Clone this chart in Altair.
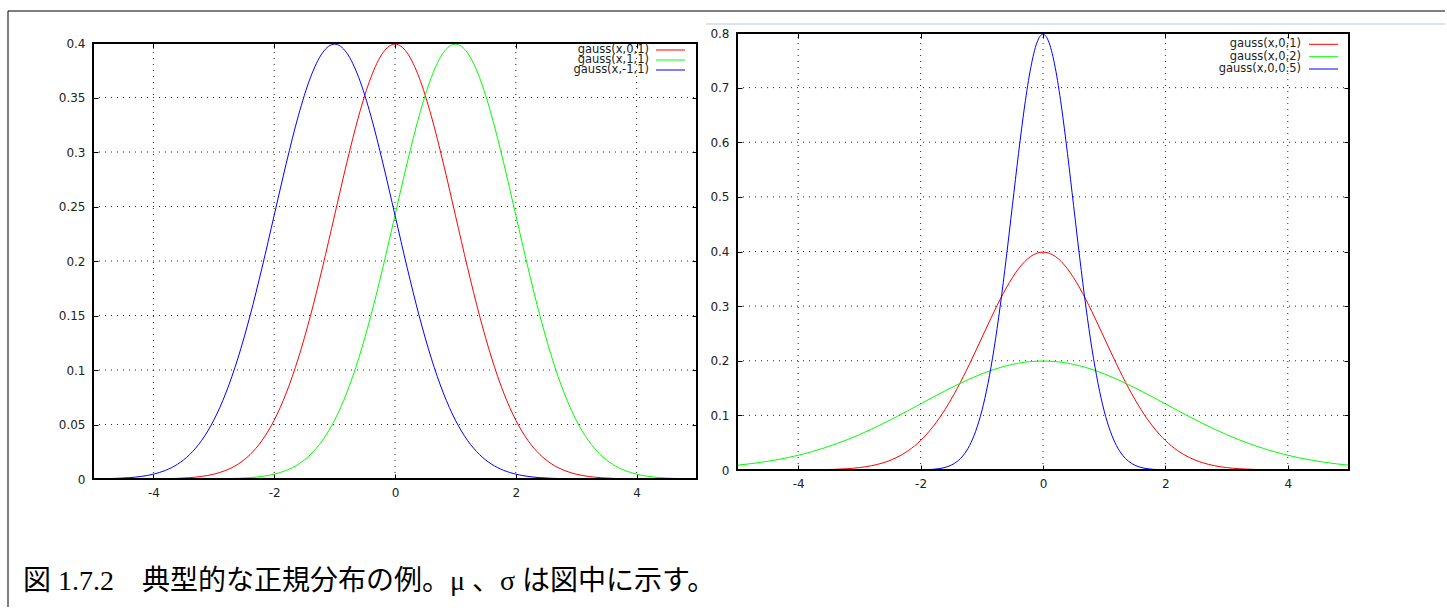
import altair as alt
import pandas as pd

# ---------------- data ----------------
X_GRID = [round(-5 + 0.2 * i, 1) for i in range(51)]   # sample positions -5..5
X_FINE = [round(-2 + 0.1 * i, 1) for i in range(41)]   # sample positions -2..2

L_RED = [0.00000, 0.00000, 0.00001, 0.00002, 0.00006, 0.00013, 0.00029, 0.00061, 0.00123, 0.00238,
         0.00443, 0.00792, 0.01358, 0.02239, 0.03547, 0.05399, 0.07895, 0.11092, 0.14973, 0.19419,
         0.24197, 0.28969, 0.33322, 0.36827, 0.39104, 0.39894, 0.39104, 0.36827, 0.33322, 0.28969,
         0.24197, 0.19419, 0.14973, 0.11092, 0.07895, 0.05399, 0.03547, 0.02239, 0.01358, 0.00792,
         0.00443, 0.00238, 0.00123, 0.00061, 0.00029, 0.00013, 0.00006, 0.00002, 0.00001, 0.00000,
         0.00000]
L_GREEN = [0.00000, 0.00000, 0.00000, 0.00000, 0.00000, 0.00000, 0.00000, 0.00001, 0.00002, 0.00006,
           0.00013, 0.00029, 0.00061, 0.00123, 0.00238, 0.00443, 0.00792, 0.01358, 0.02239, 0.03547,
           0.05399, 0.07895, 0.11092, 0.14973, 0.19419, 0.24197, 0.28969, 0.33322, 0.36827, 0.39104,
           0.39894, 0.39104, 0.36827, 0.33322, 0.28969, 0.24197, 0.19419, 0.14973, 0.11092, 0.07895,
           0.05399, 0.03547, 0.02239, 0.01358, 0.00792, 0.00443, 0.00238, 0.00123, 0.00061, 0.00029,
           0.00013]
L_BLUE = [0.00013, 0.00029, 0.00061, 0.00123, 0.00238, 0.00443, 0.00792, 0.01358, 0.02239, 0.03547,
          0.05399, 0.07895, 0.11092, 0.14973, 0.19419, 0.24197, 0.28969, 0.33322, 0.36827, 0.39104,
          0.39894, 0.39104, 0.36827, 0.33322, 0.28969, 0.24197, 0.19419, 0.14973, 0.11092, 0.07895,
          0.05399, 0.03547, 0.02239, 0.01358, 0.00792, 0.00443, 0.00238, 0.00123, 0.00061, 0.00029,
          0.00013, 0.00006, 0.00002, 0.00001, 0.00000, 0.00000, 0.00000, 0.00000, 0.00000, 0.00000,
          0.00000]

R_RED = [0.00000, 0.00000, 0.00001, 0.00002, 0.00006, 0.00013, 0.00029, 0.00061, 0.00123, 0.00238,
         0.00443, 0.00792, 0.01358, 0.02239, 0.03547, 0.05399, 0.07895, 0.11092, 0.14973, 0.19419,
         0.24197, 0.28969, 0.33322, 0.36827, 0.39104, 0.39894, 0.39104, 0.36827, 0.33322, 0.28969,
         0.24197, 0.19419, 0.14973, 0.11092, 0.07895, 0.05399, 0.03547, 0.02239, 0.01358, 0.00792,
         0.00443, 0.00238, 0.00123, 0.00061, 0.00029, 0.00013, 0.00006, 0.00002, 0.00001, 0.00000,
         0.00000]
R_GREEN = [0.00877, 0.01120, 0.01417, 0.01774, 0.02199, 0.02700, 0.03281, 0.03948, 0.04703, 0.05546,
           0.06476, 0.07487, 0.08569, 0.09710, 0.10893, 0.12099, 0.13305, 0.14485, 0.15613, 0.16661,
           0.17603, 0.18414, 0.19070, 0.19552, 0.19848, 0.19947, 0.19848, 0.19552, 0.19070, 0.18414,
           0.17603, 0.16661, 0.15613, 0.14485, 0.13305, 0.12099, 0.10893, 0.09710, 0.08569, 0.07487,
           0.06476, 0.05546, 0.04703, 0.03948, 0.03281, 0.02700, 0.02199, 0.01774, 0.01417, 0.01120,
           0.00877]
R_BLUE = [0.00027, 0.00058, 0.00122, 0.00246, 0.00477, 0.00886, 0.01584, 0.02716, 0.04478, 0.07094,
          0.10798, 0.15790, 0.22184, 0.29946, 0.38838, 0.48394, 0.57938, 0.66645, 0.73654, 0.78209,
          0.79788, 0.78209, 0.73654, 0.66645, 0.57938, 0.48394, 0.38838, 0.29946, 0.22184, 0.15790,
          0.10798, 0.07094, 0.04478, 0.02716, 0.01584, 0.00886, 0.00477, 0.00246, 0.00122, 0.00058,
          0.00027]

L_LABELS = ["gauss(x,0,1)", "gauss(x,1,1)", "gauss(x,-1,1)"]
R_LABELS = ["gauss(x,0,1)", "gauss(x,0,2)", "gauss(x,0,0.5)"]
COLORS = ["#ff0000", "#00ff00", "#0000ff"]

X_DOMAIN = [-5, 5]
X_TICKS = [-4, -2, 0, 2, 4]
L_Y_DOMAIN = [0, 0.4]
L_Y_TICKS = [0, 0.05, 0.1, 0.15, 0.2, 0.25, 0.3, 0.35, 0.4]
R_Y_DOMAIN = [0, 0.8]
R_Y_TICKS = [0, 0.1, 0.2, 0.3, 0.4, 0.5, 0.6, 0.7, 0.8]

CAPTION = "図 1.7.2\u3000典型的な正規分布の例。μ 、σ は図中に示す。"

FONT = "DejaVu Sans"
LABEL_COLOR = "#222222"


def tick_axis(orient, values, offset, labels=True, pad=8):
    kw = dict(orient=orient, values=values, grid=False, domain=False, ticks=True,
              tickSize=5, tickColor="black", tickWidth=1, offset=offset, title=None)
    if labels:
        kw.update(labelPadding=pad, labelFont=FONT, labelFontSize=12, labelColor=LABEL_COLOR,
                  labelExpr="'' + datum.value", labelFlush=False)
    else:
        kw.update(labels=False)
    return alt.Axis(**kw)


def panel(series, labels, ydom, yticks, width, height, top_gap,
          leg_text_x, leg_line_x, leg_rows_y, leg_size, extra_layers):
    records = []
    for (xs, ys), lab in zip(series, labels):
        for xv, yv in zip(xs, ys):
            records.append({"x": xv, "y": yv, "series": lab})
    df = pd.DataFrame(records)

    xsc = alt.Scale(domain=X_DOMAIN, nice=False, zero=False)
    ysc = alt.Scale(domain=ydom, nice=False, zero=False, range=[height, top_gap])

    grid_v = alt.Chart(pd.DataFrame({"gx": X_TICKS, "y0": ydom[0], "y1": ydom[1]})).mark_rule(
        color="black", strokeWidth=1, strokeDash=[1, 5], opacity=0.85
    ).encode(
        x=alt.X("gx:Q", scale=xsc, axis=None),
        y=alt.Y("y0:Q", scale=ysc, axis=None),
        y2="y1:Q",
    )
    grid_h = alt.Chart(pd.DataFrame({"gy": yticks, "x0": X_DOMAIN[0], "x1": X_DOMAIN[1]})).mark_rule(
        color="black", strokeWidth=1, strokeDash=[1, 5], opacity=0.85
    ).encode(
        x=alt.X("x0:Q", scale=xsc, axis=None),
        x2="x1:Q",
        y=alt.Y("gy:Q", scale=ysc, axis=None),
    )
    curves = alt.Chart(df).mark_line(strokeWidth=1, interpolate="monotone").encode(
        x=alt.X("x:Q", scale=xsc, axis=tick_axis("bottom", X_TICKS, -5)),
        y=alt.Y("y:Q", scale=ysc, axis=tick_axis("left", yticks, -5)),
        color=alt.Color("series:N", scale=alt.Scale(domain=labels, range=COLORS), legend=None),
    )
    frame = alt.Chart(pd.DataFrame({"x0": [X_DOMAIN[0]], "x1": [X_DOMAIN[1]],
                                    "y0": [ydom[0]], "y1": [ydom[1]]})).mark_rect(
        fillOpacity=0, stroke="black", strokeWidth=2
    ).encode(
        x=alt.X("x0:Q", scale=xsc, axis=tick_axis("top", X_TICKS, -(top_gap + 5), labels=False)),
        x2="x1:Q",
        y=alt.Y("y0:Q", scale=ysc, axis=tick_axis("right", yticks, -5, labels=False)),
        y2="y1:Q",
    )

    legend = []
    for lab, col, ry in zip(labels, COLORS, leg_rows_y):
        legend.append(
            alt.Chart(pd.DataFrame({"t": [lab]})).mark_text(
                align="right", baseline="middle", font=FONT, fontSize=leg_size, color=LABEL_COLOR
            ).encode(text="t:N", x=alt.value(leg_text_x), y=alt.value(ry))
        )
        legend.append(
            alt.Chart(pd.DataFrame({"t": [lab]})).mark_rule(color=col, strokeWidth=1).encode(
                x=alt.value(leg_line_x[0]), x2=alt.value(leg_line_x[1]), y=alt.value(ry)
            )
        )

    return alt.layer(grid_v, grid_h, curves, frame, *legend, *extra_layers).resolve_axis(
        x="independent", y="independent"
    ).properties(width=width, height=height)


dummy = pd.DataFrame({"t": [CAPTION]})

left_extra = [
    alt.Chart(dummy).mark_rule(color="black", strokeWidth=1).encode(
        x=alt.value(-85), y=alt.value(-22), y2=alt.value(574)),
    alt.Chart(dummy).mark_rule(color="black", strokeWidth=1).encode(
        x=alt.value(-85), x2=alt.value(1352), y=alt.value(-22)),
    alt.Chart(dummy).mark_text(
        align="left", baseline="middle", font="'Liberation Serif', 'Noto Sans CJK JP'",
        fontSize=28, color="black"
    ).encode(text="t:N", x=alt.value(-70), y=alt.value(549)),
]
right_extra = [
    alt.Chart(dummy).mark_rule(color="#b8c6d4", strokeWidth=1).encode(
        x=alt.value(-31), x2=alt.value(708), y=alt.value(-9)),
]

left = panel(
    [(X_GRID, L_RED), (X_GRID, L_GREEN), (X_GRID, L_BLUE)], L_LABELS,
    L_Y_DOMAIN, L_Y_TICKS, 604, 446, 10,
    556, (563, 592), [17, 27, 37], 11.5, left_extra,
)
right = panel(
    [(X_GRID, R_RED), (X_GRID, R_GREEN), (X_FINE, R_BLUE)], R_LABELS,
    R_Y_DOMAIN, R_Y_TICKS, 612, 437, 0,
    564, (572, 601), [11.3, 23.7, 36], 11.5, right_extra,
)

chart = alt.hconcat(left, right, spacing=40, bounds="flush").resolve_scale(
    x="independent", y="independent", color="independent"
).properties(
    padding={"left": 7, "top": 10, "right": 0, "bottom": 0}
).configure_view(stroke=None)

chart.save("out.html", embed_options={"renderer": "svg", "actions": False})
